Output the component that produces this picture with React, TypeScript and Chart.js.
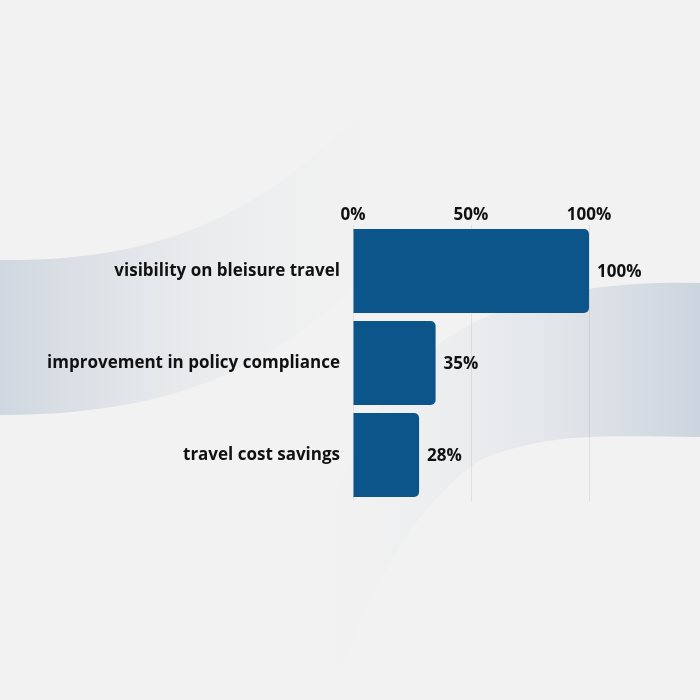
import React, { useEffect, useRef } from 'react';
import { Chart, registerables } from 'chart.js';

Chart.register(...registerables);

const categories = ['visibility on bleisure travel', 'improvement in policy compliance', 'travel cost savings'];
const values = [100, 35, 28];
const tickValues = [0, 50, 100];

const FONT = '"Open Sans", sans-serif';

// soft ribbons behind the chart
const backgroundPlugin = {
  id: 'ribbons',
  beforeDraw(chart: any) {
    const { ctx, width, height } = chart;
    ctx.save();
    ctx.fillStyle = '#f2f2f2';
    ctx.fillRect(0, 0, width, height);

    // left ribbon
    let g = ctx.createLinearGradient(0, 0, 420, 0);
    g.addColorStop(0, '#d0d7e0');
    g.addColorStop(1, 'rgba(242,242,242,0)');
    ctx.fillStyle = g;
    ctx.beginPath();
    ctx.moveTo(0, 260);
    ctx.bezierCurveTo(150, 262, 260, 220, 360, 110);
    ctx.bezierCurveTo(400, 60, 430, 20, 460, 0);
    ctx.lineTo(560, 0);
    ctx.bezierCurveTo(480, 80, 430, 200, 360, 280);
    ctx.bezierCurveTo(270, 370, 170, 415, 0, 415);
    ctx.closePath();
    ctx.fill();

    // right ribbon
    g = ctx.createLinearGradient(700, 0, 280, 0);
    g.addColorStop(0, '#ccd4df');
    g.addColorStop(1, 'rgba(242,242,242,0)');
    ctx.fillStyle = g;
    ctx.beginPath();
    ctx.moveTo(700, 283);
    ctx.bezierCurveTo(560, 280, 460, 310, 400, 380);
    ctx.bezierCurveTo(350, 440, 320, 520, 270, 700);
    ctx.lineTo(330, 700);
    ctx.bezierCurveTo(370, 580, 420, 500, 480, 460);
    ctx.bezierCurveTo(550, 430, 620, 437, 700, 437);
    ctx.closePath();
    ctx.fill();
    ctx.restore();
  },
};

const valueLabelPlugin = {
  id: 'valueLabels',
  afterDatasetsDraw(chart: any) {
    const { ctx } = chart;
    const meta = chart.getDatasetMeta(0);
    ctx.save();
    ctx.font = `700 17px ${FONT}`;
    ctx.fillStyle = '#111111';
    ctx.textAlign = 'left';
    ctx.textBaseline = 'middle';
    meta.data.forEach((bar: any, i: number) => {
      ctx.fillText(values[i] + '%', bar.x + 8, bar.y + 1);
    });
    ctx.restore();
  },
};

export default function App() {
  const canvasRef = useRef<HTMLCanvasElement>(null);

  useEffect(() => {
    document.body.style.margin = '0';
    if (!canvasRef.current) return;
    const chart = new Chart(canvasRef.current, {
      type: 'bar',
      data: {
        labels: categories,
        datasets: [
          {
            data: values,
            backgroundColor: '#0b558b',
            borderRadius: 5,
            borderSkipped: 'start',
            barPercentage: 0.913,
            categoryPercentage: 1,
          },
        ],
      },
      options: {
        indexAxis: 'y',
        animation: false,
        responsive: false,
        devicePixelRatio: 1,
        layout: { padding: { top: 0, right: 111, bottom: 199, left: 0 } },
        plugins: {
          legend: { display: false },
          tooltip: { enabled: false },
        },
        scales: {
          x: {
            position: 'top',
            min: 0,
            max: 100,
            afterBuildTicks: (s: any) => {
              s.ticks = tickValues.map((v) => ({ value: v }));
            },
            afterFit: (s: any) => {
              s.height = 225;
            },
            ticks: {
              padding: 0,
              color: '#111111',
              font: { family: FONT, size: 17, weight: 700 },
              callback: (v: any) => v + '%',
            },
            grid: { color: 'rgba(0,0,0,0.07)', drawTicks: false },
            border: { display: false },
          },
          y: {
            afterFit: (s: any) => {
              s.width = 353;
            },
            ticks: {
              padding: 13,
              color: '#111111',
              font: { family: FONT, size: 17, weight: 700 },
            },
            grid: { display: false, drawTicks: false },
            border: { display: false },
          },
        },
      },
      plugins: [backgroundPlugin, valueLabelPlugin],
    });
    return () => chart.destroy();
  }, []);

  return (
    <div style={{ width: 700, height: 700 }}>
      <canvas ref={canvasRef} width={700} height={700} />
    </div>
  );
}
